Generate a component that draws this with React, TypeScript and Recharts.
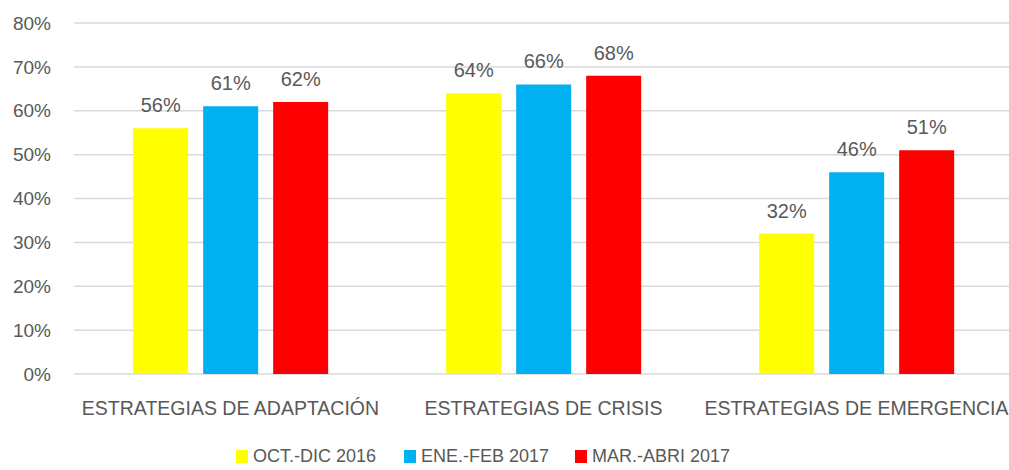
import React from 'react';
import { BarChart, Bar, XAxis, YAxis, CartesianGrid, Legend, LabelList } from 'recharts';

const categories = ['ESTRATEGIAS DE ADAPTACIÓN', 'ESTRATEGIAS DE CRISIS', 'ESTRATEGIAS DE EMERGENCIA'];
const octDic2016 = [56, 64, 32];
const eneFeb2017 = [61, 66, 46];
const marAbri2017 = [62, 68, 51];
const seriesNames = ['OCT.-DIC 2016', 'ENE.-FEB 2017', 'MAR.-ABRI 2017'];
const yTicks = [0, 10, 20, 30, 40, 50, 60, 70, 80];

const data = categories.map((c, i) => ({
  name: c,
  s1: octDic2016[i],
  s2: eneFeb2017[i],
  s3: marAbri2017[i],
}));

const FONT = '"Liberation Sans", Arial, sans-serif';
const TXT = '#595959';
const colors = ['#FFFF00', '#00B0F0', '#FF0000'];

const LegendContent = () => (
  <div style={{ position: 'relative', height: 36, fontFamily: FONT, fontSize: 18, color: TXT }}>
    {seriesNames.map((n, i) => {
      const lefts = [236, 404, 575];
      return (
        <div key={n} style={{ position: 'absolute', left: lefts[i], top: 12, display: 'flex', alignItems: 'center', whiteSpace: 'nowrap' }}>
          <span style={{ display: 'inline-block', width: 12, height: 13, background: colors[i], marginRight: 5 }} />
          <span>{n}</span>
        </div>
      );
    })}
  </div>
);

export default function App() {
  return (
    <div style={{ position: 'fixed', left: 0, top: 0, width: 1009, height: 470, overflow: 'hidden', background: '#fff' }}>
      <BarChart
        width={1013}
        height={470}
        data={data}
        margin={{ top: 23, right: 0, bottom: 0, left: 0 }}
        barCategoryGap="18.9%"
        barGap={15}
      >
        <CartesianGrid vertical={false} stroke="#D9D9D9" strokeWidth={1.5} />
        <XAxis
          dataKey="name"
          axisLine={false}
          tickLine={false}
          height={60}
          tickMargin={21}
          tick={{ fill: TXT, fontSize: 19.5, fontFamily: FONT }}
          interval={0}
        />
        <YAxis
          width={74}
          domain={[0, 80]}
          ticks={yTicks}
          axisLine={false}
          tickLine={false}
          tickMargin={17}
          tickFormatter={(v: number) => `${v}%`}
          tick={{ fill: TXT, fontSize: 19, fontFamily: FONT }}
        />
        <Legend
          verticalAlign="bottom"
          align="left"
          height={36}
          content={<LegendContent />}
          wrapperStyle={{ left: 0, width: 1009, bottom: 0 }}
        />
        {(['s1', 's2', 's3'] as const).map((k, i) => (
          <Bar key={k} dataKey={k} name={seriesNames[i]} fill={colors[i]} isAnimationActive={false}>
            <LabelList
              dataKey={k}
              position="top"
              offset={16}
              formatter={(v: number) => `${v}%`}
              style={{ fill: TXT, fontSize: 20, fontFamily: FONT }}
            />
          </Bar>
        ))}
      </BarChart>
    </div>
  );
}
